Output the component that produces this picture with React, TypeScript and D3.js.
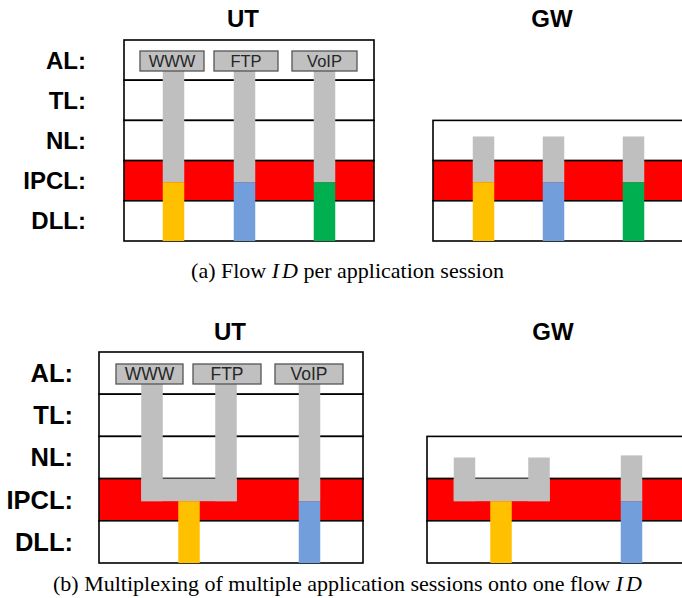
import React from "react";
import * as d3 from "d3";

const layers = ["AL:", "TL:", "NL:", "IPCL:", "DLL:"];
const apps = ["WWW", "FTP", "VoIP"];
const flowColors = ["#ffc000", "#729fdb", "#00b050"];
const muxColors = ["#ffc000", "#729fdb"];
const captionA = ["(a) Flow ", "I", "D", " per application session"];
const captionB = ["(b) Multiplexing of multiple application sessions onto one flow ", "I", "D"];

const W = 682;
const H = 598;
const RED = "#ff0000";
const GRAY = "#bfbfbf";
const BOX_GRAY = "#c0c0c0";
const sans = "Liberation Sans, Arial, sans-serif";
const serif = "Liberation Serif, Times New Roman, serif";

type Panel = {
  rowY: d3.ScaleLinear<number, number>;
  utX: [number, number];
  gwX: [number, number];
  labelX: number;
  labelSize: number;
  utTitleX: number;
  gwTitleX: number;
  titleY: number;
  appBox: [number, number][];
  appSize: number;
  boxTop: number;
  boxH: number;
};

const panelA: Panel = {
  rowY: d3.scaleLinear().domain([0, 5]).range([40, 241]),
  utX: [124, 374],
  gwX: [433, 690],
  labelX: 86,
  labelSize: 24,
  utTitleX: 243,
  gwTitleX: 552,
  titleY: 27,
  appBox: [[140, 204], [214, 278], [292, 357]],
  appSize: 16.5,
  boxTop: 51,
  boxH: 20,
};

const panelB: Panel = {
  rowY: d3.scaleLinear().domain([0, 5]).range([352, 563]),
  utX: [99, 363],
  gwX: [427, 690],
  labelX: 73,
  labelSize: 25.5,
  utTitleX: 230,
  gwTitleX: 553,
  titleY: 340,
  appBox: [[116, 183], [193, 261], [275, 343]],
  appSize: 17.5,
  boxTop: 364,
  boxH: 20,
};

// column centres
const aUtCols = [173.5, 244.5, 324.5];
const aGwCols = [483.5, 553.5, 633.5];
const bUtUp = [152, 226, 309.5];
const bUtDown = [189, 309.5];
const bGwUp = [464.5, 539, 631.5];
const bGwDown = [501, 631.5];
const COLW = 21.5;

function Layers({ p, from, x }: { p: Panel; from: number; x: [number, number] }) {
  const rows = d3.range(from, 5);
  return (
    <g>
      {rows.map((i) => (
        <rect
          key={i}
          x={x[0]}
          y={p.rowY(i)}
          width={x[1] - x[0]}
          height={p.rowY(i + 1) - p.rowY(i)}
          fill={layers[i] === "IPCL:" ? RED : "#fff"}
          stroke="#000"
          strokeWidth={1.6}
        />
      ))}
    </g>
  );
}

function Labels({ p }: { p: Panel }) {
  return (
    <g>
      {layers.map((l, i) => (
        <text
          key={l}
          x={p.labelX}
          y={(p.rowY(i) + p.rowY(i + 1)) / 2 + p.labelSize * 0.35}
          textAnchor="end"
          fontFamily={sans}
          fontWeight="bold"
          fontSize={p.labelSize}
          fill="#000"
        >
          {l}
        </text>
      ))}
    </g>
  );
}

function Titles({ p }: { p: Panel }) {
  return (
    <g fontFamily={sans} fontWeight="bold" fontSize={24} textAnchor="middle">
      <text x={p.utTitleX} y={p.titleY}>UT</text>
      <text x={p.gwTitleX} y={p.titleY}>GW</text>
    </g>
  );
}

function AppBoxes({ p }: { p: Panel }) {
  return (
    <g>
      {apps.map((a, i) => (
        <g key={a}>
          <rect
            x={p.appBox[i][0]}
            y={p.boxTop}
            width={p.appBox[i][1] - p.appBox[i][0]}
            height={p.boxH}
            fill={BOX_GRAY}
            stroke="#555"
            strokeWidth={1.3}
          />
          <text
            x={(p.appBox[i][0] + p.appBox[i][1]) / 2}
            y={p.boxTop + p.boxH / 2 + p.appSize * 0.36}
            textAnchor="middle"
            fontFamily={sans}
            fontSize={p.appSize}
            fill="#262626"
          >
            {a}
          </text>
        </g>
      ))}
    </g>
  );
}

export default function App() {
  const A = panelA;
  const B = panelB;
  const aSplit = A.rowY(3.5) + 1.5; // gray -> colour in IPCL
  const bSplit = B.rowY(3.5) + 1.5;
  const aGwTop = A.rowY(2.4);
  const bGwTopU = B.rowY(2.5);
  const bGwTopV = B.rowY(2.45);
  return (
    <svg
      width={W}
      height={H}
      viewBox={`0 0 ${W} ${H}`}
      style={{ position: "absolute", left: 0, top: 0, background: "#fff" }}
    >
      <rect width={W} height={H} fill="#fff" />
      {/* Panel (a) */}
      <Titles p={A} />
      <Labels p={A} />
      <Layers p={A} from={0} x={A.utX} />
      <Layers p={A} from={2} x={A.gwX} />
      {aUtCols.map((c, i) => (
        <g key={"au" + i}>
          <rect x={c - COLW / 2} y={A.boxTop + A.boxH} width={COLW} height={aSplit - A.boxTop - A.boxH} fill={GRAY} />
          <rect x={c - COLW / 2} y={aSplit} width={COLW} height={A.rowY(5) - aSplit} fill={flowColors[i]} />
        </g>
      ))}
      {aGwCols.map((c, i) => (
        <g key={"ag" + i}>
          <rect x={c - COLW / 2} y={aGwTop} width={COLW} height={aSplit - aGwTop} fill={GRAY} />
          <rect x={c - COLW / 2} y={aSplit} width={COLW} height={A.rowY(5) - aSplit} fill={flowColors[i]} />
        </g>
      ))}
      <AppBoxes p={A} />
      <text x={347.5} y={278} textAnchor="middle" fontFamily={serif} fontSize={22} fill="#000">
        {captionA[0]}
        <tspan fontStyle="italic" letterSpacing={3}>{captionA[1]}</tspan>
        <tspan fontStyle="italic">{captionA[2]}</tspan>
        {captionA[3]}
      </text>

      {/* Panel (b) */}
      <Titles p={B} />
      <Labels p={B} />
      <Layers p={B} from={0} x={B.utX} />
      <Layers p={B} from={2} x={B.gwX} />
      {/* UT multiplexed U shape */}
      <rect x={bUtUp[0] - COLW / 2} y={B.boxTop + B.boxH} width={COLW} height={bSplit - B.boxTop - B.boxH} fill={GRAY} />
      <rect x={bUtUp[1] - COLW / 2} y={B.boxTop + B.boxH} width={COLW} height={bSplit - B.boxTop - B.boxH} fill={GRAY} />
      <rect x={bUtUp[0] - COLW / 2} y={B.rowY(3)} width={bUtUp[1] - bUtUp[0] + COLW} height={bSplit - B.rowY(3)} fill={GRAY} />
      <rect x={bUtDown[0] - COLW / 2} y={bSplit} width={COLW} height={B.rowY(5) - bSplit} fill={muxColors[0]} />
      <rect x={bUtUp[2] - COLW / 2} y={B.boxTop + B.boxH} width={COLW} height={bSplit - B.boxTop - B.boxH} fill={GRAY} />
      <rect x={bUtDown[1] - COLW / 2} y={bSplit} width={COLW} height={B.rowY(5) - bSplit} fill={muxColors[1]} />
      {/* GW */}
      <rect x={bGwUp[0] - COLW / 2} y={bGwTopU} width={COLW} height={bSplit - bGwTopU} fill={GRAY} />
      <rect x={bGwUp[1] - COLW / 2} y={bGwTopU} width={COLW} height={bSplit - bGwTopU} fill={GRAY} />
      <rect x={bGwUp[0] - COLW / 2} y={B.rowY(3)} width={bGwUp[1] - bGwUp[0] + COLW} height={bSplit - B.rowY(3)} fill={GRAY} />
      <rect x={bGwDown[0] - COLW / 2} y={bSplit} width={COLW} height={B.rowY(5) - bSplit} fill={muxColors[0]} />
      <rect x={bGwUp[2] - COLW / 2} y={bGwTopV} width={COLW} height={bSplit - bGwTopV} fill={GRAY} />
      <rect x={bGwDown[1] - COLW / 2} y={bSplit} width={COLW} height={B.rowY(5) - bSplit} fill={muxColors[1]} />
      <AppBoxes p={B} />
      <text x={347.5} y={591} textAnchor="middle" fontFamily={serif} fontSize={22} fill="#000">
        {captionB[0]}
        <tspan fontStyle="italic" letterSpacing={3}>{captionB[1]}</tspan>
        <tspan fontStyle="italic">{captionB[2]}</tspan>
      </text>
    </svg>
  );
}
